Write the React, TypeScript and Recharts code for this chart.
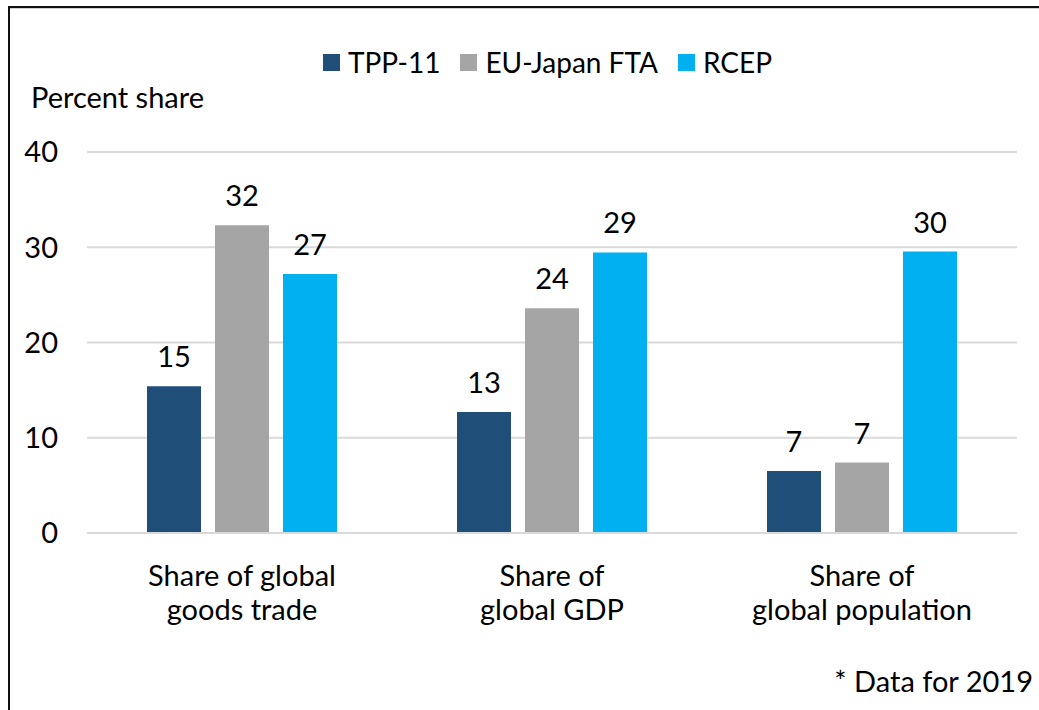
import React from "react";
import { BarChart, Bar, XAxis, YAxis, CartesianGrid, Legend, LabelList } from "recharts";

const categories = ["Share of global goods trade", "Share of global GDP", "Share of global population"];
const tickLines = [
  ["Share of global", "goods trade"],
  ["Share of", "global GDP"],
  ["Share of", "global population"],
];
const tpp11 = [15.4, 12.7, 6.5];
const euJapan = [32.3, 23.6, 7.4];
const rcep = [27.2, 29.45, 29.55];
const yTicks = [0, 10, 20, 30, 40];

const seriesKeys = ["tpp", "eu", "rcep"];
const seriesNames: Record<string, string> = { tpp: "TPP-11", eu: "EU-Japan FTA", rcep: "RCEP" };
const colors: Record<string, string> = { tpp: "#1F4E79", eu: "#A5A5A5", rcep: "#00B0F0" };

const data = categories.map((c, i) => ({
  name: c,
  tpp: tpp11[i],
  eu: euJapan[i],
  rcep: rcep[i],
}));

const FONT = "Lato, 'Open Sans', sans-serif";
const FS = 29;

const XTick = (props: any) => {
  const { x, y, payload } = props;
  const lines = tickLines[payload.index] || [payload.value];
  return (
    <text x={x} y={y} textAnchor="middle" fill="#000" fontSize={FS} fontFamily={FONT}>
      {lines.map((l: string, k: number) => (
        <tspan key={k} x={x} dy={k === 0 ? 53 : 34}>
          {l}
        </tspan>
      ))}
    </text>
  );
};

const LegendContent = (props: any) => {
  const payload = [...(props.payload || [])].sort(
    (a: any, b: any) => seriesKeys.indexOf(a.dataKey) - seriesKeys.indexOf(b.dataKey)
  );
  return (
    <div style={{ display: "flex", justifyContent: "center", alignItems: "center", fontFamily: FONT, fontSize: 28, color: "#000", lineHeight: "30px" }}>
      {payload.map((p: any, i: number) => (
        <div key={i} style={{ display: "flex", alignItems: "center", marginLeft: i === 0 ? 0 : 20 }}>
          <span style={{ display: "inline-block", width: 17, height: 17, background: p.color, marginRight: 8 }} />
          <span>{p.value}</span>
        </div>
      ))}
    </div>
  );
};

export default function App() {
  return (
    <div style={{ position: "absolute", left: 0, top: 0, width: 1039, height: 710, background: "#fff", overflow: "hidden" }}>
      <div style={{ position: "absolute", left: 8, top: 6, width: 1031, height: 2, background: "#111" }} />
      <div style={{ position: "absolute", left: 8, top: 6, width: 2, height: 704, background: "#111" }} />
      <div style={{ position: "absolute", left: 10, top: 8, width: 1029, height: 1, background: "#d0d0d0" }} />
      <BarChart
        width={1039}
        height={710}
        data={data}
        margin={{ top: 122, right: 22, bottom: 147, left: 27 }}
        barGap={14}
        barCategoryGap={60}
        style={{ position: "absolute", left: 0, top: 0 }}
      >
        <CartesianGrid vertical={false} stroke="#D9D9D9" strokeWidth={2} />
        <XAxis
          dataKey="name"
          tickLine={false}
          axisLine={{ stroke: "#D9D9D9", strokeWidth: 2 }}
          tickSize={0}
          tickMargin={0}
          interval={0}
          tick={<XTick />}
        />
        <YAxis
          domain={[0, 40]}
          ticks={yTicks}
          width={60}
          axisLine={false}
          tickLine={false}
          tickSize={0}
          tickMargin={29}
          tick={{ fill: "#000", fontSize: FS, fontFamily: FONT }}
        />
        <Legend
          verticalAlign="top"
          content={<LegendContent />}
          wrapperStyle={{ position: "absolute", top: 47, left: 28, width: 1039 }}
        />
        {seriesKeys.map((k) => (
          <Bar key={k} dataKey={k} name={seriesNames[k]} fill={colors[k]} isAnimationActive={false}>
            <LabelList dataKey={k} position="top" offset={19} formatter={(v: any) => Math.round(v)} fill="#000" fontSize={FS} fontFamily={FONT} />
          </Bar>
        ))}
      </BarChart>
      <div style={{ position: "absolute", left: 31, top: 82, fontFamily: FONT, fontSize: FS, color: "#000", lineHeight: "29px" }}>
        Percent share
      </div>
      <div style={{ position: "absolute", right: 6, top: 666, fontFamily: FONT, fontSize: FS, color: "#000", lineHeight: "29px" }}>
        * Data for 2019
      </div>
    </div>
  );
}
